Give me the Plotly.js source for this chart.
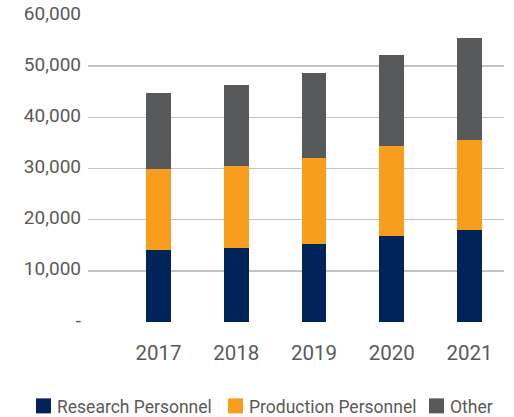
<!DOCTYPE html>
<html>
<head>
<meta charset="utf-8">
<script src="https://cdn.plot.ly/plotly-3.0.1.min.js"></script>
<style>
html,body{margin:0;padding:0;background:#fff;}
#chart{width:514px;height:417px;}
.legendpoints path{transform:translate(26.5px,0px) scale(1.25);}
.legend rect.bg{fill:none !important;}
.legend .scrollbox{clip-path:none !important;}
</style>
</head>
<body>
<div id="chart"></div>
<script>
var years = ['2017', '2018', '2019', '2020', '2021'];
var research = [14100, 14450, 15300, 16850, 18050];
var production = [15800, 16100, 16800, 17600, 17600];
var other = [14850, 15750, 16550, 17700, 19950];
var yTickVals = [0, 10000, 20000, 30000, 40000, 50000, 60000];
var yTickText = ['-', '10,000', '20,000', '30,000', '40,000', '50,000', '60,000'];

var FONT = 'Roboto, "DejaVu Sans", sans-serif';
var TXT = '#5a5a5a';

function bar(name, vals, color, leg) {
  return {type: 'bar', name: name, x: years, y: vals, width: 0.32, legend: leg,
          marker: {color: color, line: {width: 0}}, hoverinfo: 'y+name'};
}

var data = [
  bar('Research Personnel', research, '#002359', 'legend'),
  bar('Production Personnel', production, '#F89D1E', 'legend2'),
  bar('Other', other, '#58595B', 'legend3')
];

function leg(xpx) {
  return {orientation: 'h', xref: 'container', yref: 'container',
          x: xpx / 514, xanchor: 'left', y: 11 / 417, yanchor: 'middle',
          font: {family: FONT, size: 17.5, color: TXT}, itemwidth: 30,
          bgcolor: 'rgba(0,0,0,0)', borderwidth: 0,
          itemclick: false, itemdoubleclick: false};
}

var layout = {
  width: 514, height: 417,
  margin: {l: 88, r: 10, t: 15, b: 95, pad: 0},
  paper_bgcolor: '#fff', plot_bgcolor: '#fff',
  barmode: 'stack',
  font: {family: FONT, color: TXT, size: 20},
  xaxis: {type: 'category', range: [-0.907, 4.444], showgrid: false, zeroline: false,
          showline: false, ticks: '', ticklabelstandoff: 16,
          tickfont: {family: FONT, size: 20.5, color: TXT}, fixedrange: true},
  yaxis: {range: [0, 60000], tickvals: yTickVals, ticktext: yTickText,
          showgrid: true, gridcolor: '#c3c3c3', gridwidth: 1.5,
          zeroline: false, showline: false, ticks: '', ticklabelstandoff: 6,
          ticklabelshift: -2,
          tickfont: {family: FONT, size: 19, color: TXT}, fixedrange: true},
  showlegend: true,
  legend: leg(17),
  legend2: leg(209),
  legend3: leg(410),
  bargap: 0
};

Plotly.newPlot('chart', data, layout, {displayModeBar: false, staticPlot: true});
</script>
</body>
</html>
